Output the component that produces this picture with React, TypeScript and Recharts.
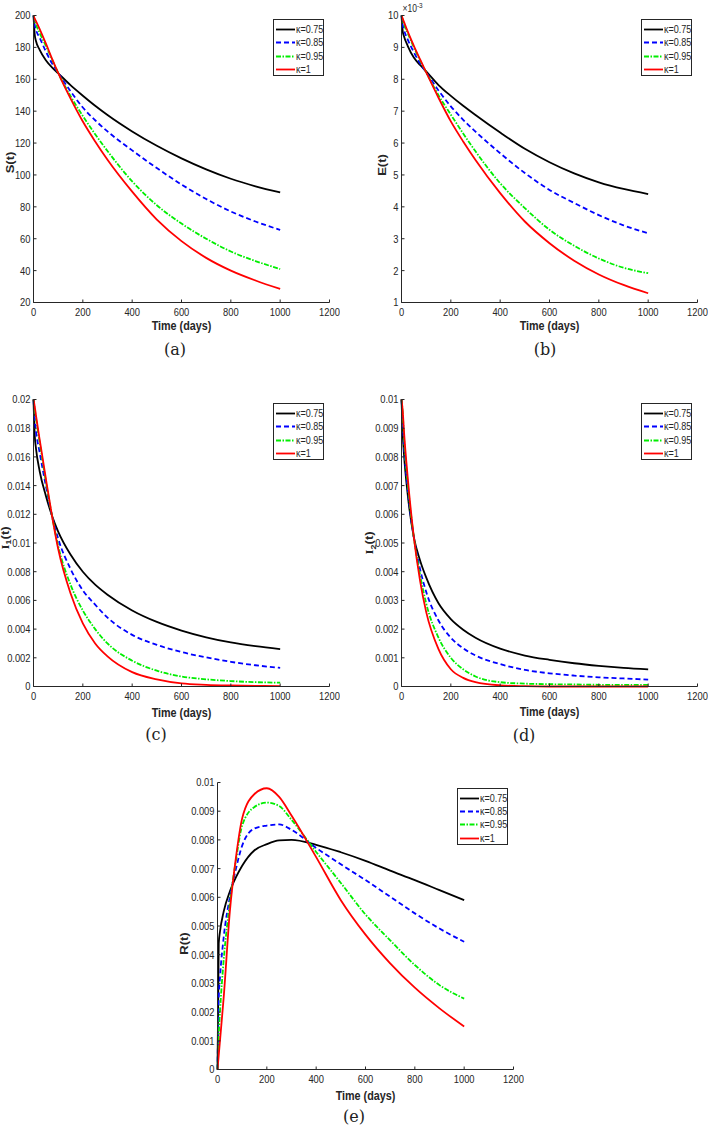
import React from 'react';
import { LineChart, Line, XAxis, YAxis, Legend } from 'recharts';

// ---------- data ----------
const TIME = [0, 5, 10, 25, 50, 75, 100, 150, 200, 250, 300, 400, 500, 600, 700, 800, 900, 1000];
const X_TICKS = [0, 200, 400, 600, 800, 1000, 1200];
const KAPPA_NAMES = ['κ=0.75', 'κ=0.85', 'κ=0.95', 'κ=1'];

// (a) S(t)
const S_K075 = [200, 188, 184, 178.5, 172, 167.5, 163.8, 156.3, 149.7, 143.4, 137.6, 127.3, 118.3, 110.4, 103.5, 97.6, 92.9, 89];
const S_K085 = [200, 194, 191, 186, 177.5, 170, 164, 152.5, 142.3, 134.3, 127.3, 115.4, 104.3, 94.0, 84.9, 77.1, 70.8, 65.5];
const S_K095 = [200, 197, 194.5, 189, 181, 172.5, 164, 149.5, 137, 125.5, 115, 96, 81, 69.5, 60, 52, 46, 41];
const S_K1 = [200, 198, 196.5, 191.5, 182.5, 173, 164, 148, 133.5, 121, 109.5, 89.5, 72, 58.5, 48, 40, 33.8, 28.5];
const S_TICKS = [20, 40, 60, 80, 100, 120, 140, 160, 180, 200];

// (b) E(t)
const E_K075 = [0.01, 0.0095, 0.00935, 0.00905, 0.00868, 0.00845, 0.00825, 0.00782, 0.00748, 0.00717, 0.00688, 0.00633, 0.00582, 0.0054, 0.00505, 0.00477, 0.00456, 0.0044];
const E_K085 = [0.01, 0.0097, 0.00955, 0.00925, 0.00885, 0.0085, 0.00822, 0.00765, 0.00715, 0.00673, 0.00636, 0.00568, 0.00506, 0.00453, 0.00412, 0.00374, 0.00342, 0.00317];
const E_K095 = [0.01, 0.00985, 0.00972, 0.00945, 0.009, 0.0086, 0.00822, 0.0075, 0.00689, 0.0063, 0.00574, 0.00474, 0.00396, 0.00328, 0.00278, 0.00238, 0.00209, 0.00192];
const E_K1 = [0.01, 0.0099, 0.0098, 0.0095, 0.00905, 0.00863, 0.00822, 0.00742, 0.00668, 0.00605, 0.00547, 0.00443, 0.00354, 0.00286, 0.00231, 0.00188, 0.00155, 0.00129];
const E_TICKS = [0.001, 0.002, 0.003, 0.004, 0.005, 0.006, 0.007, 0.008, 0.009, 0.01];

// (c) I1(t)
const I1_K075 = [0.02, 0.0175, 0.0166, 0.015, 0.0133, 0.0119, 0.0108, 0.0092, 0.008, 0.0071, 0.0064, 0.0053, 0.0045, 0.0039, 0.00343, 0.00307, 0.00281, 0.0026];
const I1_K085 = [0.02, 0.0186, 0.0178, 0.0163, 0.014, 0.0119, 0.0103, 0.0082, 0.0067, 0.0057, 0.0048, 0.0036, 0.0029, 0.0024, 0.00203, 0.00172, 0.00148, 0.0013];
const I1_K095 = [0.02, 0.0193, 0.0187, 0.017, 0.0143, 0.0119, 0.0098, 0.0071, 0.0053, 0.004, 0.003, 0.0018, 0.0011, 0.0007, 0.0005, 0.00038, 0.0003, 0.00027];
const I1_K1 = [0.02, 0.0195, 0.0189, 0.0172, 0.0145, 0.0119, 0.0096, 0.0065, 0.0044, 0.003, 0.0021, 0.001, 0.0005, 0.00022, 0.00012, 0.00007, 0.00004, 0.00003];
const I1_TICKS = [0, 0.002, 0.004, 0.006, 0.008, 0.01, 0.012, 0.014, 0.016, 0.018, 0.02];

// (d) I2(t)
const I2_K075 = [0.01, 0.0088, 0.0081, 0.0067, 0.0052, 0.0044, 0.0038, 0.0029, 0.00235, 0.00198, 0.0017, 0.00132, 0.00108, 0.00093, 0.00081, 0.00072, 0.00065, 0.0006];
const I2_K085 = [0.01, 0.0092, 0.0084, 0.0069, 0.0052, 0.0041, 0.0033, 0.0023, 0.0017, 0.00133, 0.00108, 0.00078, 0.00058, 0.00046, 0.00038, 0.00032, 0.00028, 0.00024];
const I2_K095 = [0.01, 0.0095, 0.0087, 0.0071, 0.0052, 0.0039, 0.0029, 0.0017, 0.001, 0.0006, 0.00035, 0.00015, 0.0001, 0.00008, 0.00007, 0.00006, 0.00006, 0.00006];
const I2_K1 = [0.01, 0.0096, 0.0089, 0.0073, 0.0052, 0.0037, 0.0026, 0.0013, 0.0006, 0.0003, 0.00015, 0.00004, 0.00001, 0, 0, 0, 0, 0];
const SMALL_TICKS = [0, 0.001, 0.002, 0.003, 0.004, 0.005, 0.006, 0.007, 0.008, 0.009, 0.01];

// (e) R(t)
const R_K075 = [0, 0.0044, 0.0048, 0.0055, 0.0062, 0.0067, 0.0071, 0.00764, 0.00785, 0.00798, 0.008, 0.00783, 0.00757, 0.00727, 0.00693, 0.0066, 0.00625, 0.0059];
const R_K085 = [0, 0.0025, 0.0032, 0.0046, 0.006, 0.007, 0.0078, 0.0084, 0.0085, 0.00854, 0.00835, 0.00772, 0.00715, 0.0066, 0.00602, 0.00544, 0.00491, 0.00445];
const R_K095 = [0, 0.0012, 0.002, 0.0038, 0.0058, 0.0073, 0.0085, 0.00915, 0.0093, 0.00918, 0.0087, 0.00758, 0.0065, 0.0054, 0.0045, 0.00364, 0.00294, 0.00247];
const R_K1 = [0, 0.0005, 0.001, 0.0025, 0.0055, 0.0074, 0.00875, 0.0096, 0.0098, 0.0095, 0.00885, 0.0074, 0.0059, 0.0047, 0.0037, 0.00285, 0.00213, 0.0015];

// ---------- styling ----------
const FONT = '"Liberation Sans", Arial, Helvetica, sans-serif';
const AX = '#262626';
const SX = 0.85;
const KEYS = ['k075', 'k085', 'k095', 'k1'];
const STYLE: Record<string, { color: string; dash?: string; width: number }> = {
  k075: { color: '#000000', width: 1.8 },
  k085: { color: '#0000ff', dash: '5 3', width: 1.8 },
  k095: { color: '#00ee00', dash: '5 1.5 1.5 1.5', width: 1.8 },
  k1: { color: '#ff0000', width: 1.8 },
};

const buildRows = (s: number[][]) =>
  TIME.map((t, i) => ({ t, k075: s[0][i], k085: s[1][i], k095: s[2][i], k1: s[3][i] }));

const PAD = 20;
const CW = 360;
const CH = 340;
const MARGIN = { top: 15.5, right: 10.5, bottom: 7.5, left: PAD };
const YW = 33.5;
const XH = 30;
const PW = 296;

const XTick = (props: any) => {
  const { x, y, payload } = props;
  return (
    <text transform={`translate(${x},${y}) scale(${SX},1)`} textAnchor="middle" dy="0.71em"
      fontSize={11} fontFamily={FONT} fill={AX}>{payload.value}</text>
  );
};

const YTick = (props: any) => {
  const { x, y, payload, fmt } = props;
  return (
    <text transform={`translate(${x},${y}) scale(${SX},1)`} textAnchor="end" dy="0.355em"
      fontSize={11} fontFamily={FONT} fill={AX}>{fmt ? fmt(payload.value) : String(payload.value)}</text>
  );
};

const LegendBox = (props: any) => {
  const payload = props.payload || [];
  return (
    <div style={{ boxSizing: 'border-box', width: 51, height: 57, border: `1px solid ${AX}`, background: '#fff', paddingTop: 3 }}>
      {payload.map((p: any) => {
        const st = STYLE[p.dataKey as string];
        return (
          <div key={String(p.dataKey)} style={{ height: 13.3, display: 'flex', alignItems: 'center' }}>
            <svg width={22} height={13} style={{ display: 'block', flex: 'none' }}>
              <line x1={2} x2={21} y1={6.5} y2={6.5} stroke={st.color} strokeWidth={st.width} strokeDasharray={st.dash} />
            </svg>
            <span style={{ fontSize: 10.5, fontFamily: FONT, color: AX, display: 'inline-block', whiteSpace: 'nowrap',
              transform: `scaleX(0.86)`, transformOrigin: 'left center', lineHeight: '13px' }}>{p.value}</span>
          </div>
        );
      })}
    </div>
  );
};

type PanelProps = {
  px: number; py: number; rows: any[];
  yDomain: [number, number]; yTicks: number[]; yFmt?: (v: number) => string;
  yLabel: React.ReactNode; yDx: number; yDy: number; xDy: number; legendTop: number; expo?: boolean;
};

const Panel = ({ px, py, rows, yDomain, yTicks, yFmt, yLabel, yDx, yDy, xDy, legendTop, expo }: PanelProps) => {
  const left = px - YW - PAD;
  const top = py - MARGIN.top;
  const yLabelFn = (p: any) => {
    const vb = p.viewBox || { x: PAD, y: MARGIN.top, width: YW, height: 287 };
    const plotLeft = vb.x + vb.width;
    const cx = plotLeft + yDx;
    const cy = vb.y + vb.height / 2 + yDy;
    return (
      <g>
        <text transform={`translate(${cx},${cy}) scale(0.83,1) rotate(-90)`} textAnchor="middle" dominantBaseline="central"
          fontSize={13} fontWeight="bold" fontFamily={FONT} fill={AX}>{yLabel}</text>
        {expo && (
          <text transform={`translate(${plotLeft + 1},${vb.y - 4}) scale(${SX},1)`} fontSize={10} fontFamily={FONT} fill={AX}>
            ×10<tspan dy={-4} fontSize={7.5}>-3</tspan>
          </text>
        )}
      </g>
    );
  };
  const xLabelFn = (p: any) => {
    const vb = p.viewBox || { x: PAD + YW, y: MARGIN.top + 287, width: PW, height: XH };
    return (
      <text transform={`translate(${vb.x + vb.width / 2},${vb.y + xDy}) scale(0.83,1)`} textAnchor="middle"
        fontSize={13} fontWeight="bold" fontFamily={FONT} fill={AX}>Time (days)</text>
    );
  };
  return (
    <div style={{ position: 'absolute', left, top, width: CW, height: CH }}>
      <LineChart width={CW} height={CH} data={rows} margin={MARGIN}>
        <XAxis dataKey="t" type="number" domain={[0, 1200]} ticks={X_TICKS} interval={0} height={XH}
          tickSize={-3} tickMargin={9} stroke={AX} tick={<XTick />} label={xLabelFn} />
        <XAxis xAxisId="top" orientation="top" dataKey="t" type="number" domain={[0, 1200]} ticks={X_TICKS}
          interval={0} height={0} tickSize={-3} tick={false} stroke={AX} />
        <YAxis type="number" domain={yDomain} ticks={yTicks} interval={0} width={YW} tickSize={-3} tickMargin={6}
          stroke={AX} tick={<YTick fmt={yFmt} />} label={yLabelFn} />
        <YAxis yAxisId="right" orientation="right" type="number" domain={yDomain} ticks={yTicks} interval={0}
          width={0} tickSize={-3} tick={false} stroke={AX} />
        {KEYS.map((k, i) => (
          <Line key={k} dataKey={k} name={KAPPA_NAMES[i]} type="monotone" stroke={STYLE[k].color}
            strokeWidth={STYLE[k].width} strokeDasharray={STYLE[k].dash} dot={false} activeDot={false}
            isAnimationActive={false} />
        ))}
        <Legend layout="vertical" align="center" verticalAlign="middle" width={51}
          wrapperStyle={{ left: PAD + YW + PW - 5.5 - 51, top: legendTop, width: 51 }} content={<LegendBox />} />
      </LineChart>
    </div>
  );
};

const Caption = ({ x, y, text }: { x: number; y: number; text: string }) => (
  <div style={{ position: 'absolute', left: x, top: y, transform: 'translate(-50%,-50%)', fontFamily: '"DejaVu Serif", "Liberation Serif", serif',
    fontSize: 16, color: '#222', whiteSpace: 'nowrap', lineHeight: 1 }}>{text}</div>
);

const ILabel = ({ n }: { n: string }) => (
  <>
    <tspan fontFamily='"Liberation Serif", serif'>I</tspan>
    <tspan fontSize={9} dy={4}>{n}</tspan>
    <tspan dy={-4}>(t)</tspan>
  </>
);

export default function App() {
  return (
    <div style={{ position: 'absolute', left: 0, top: 0, width: 708, height: 1127, background: '#fff', overflow: 'hidden' }}>
      <Panel px={33.5} py={15.5} rows={buildRows([S_K075, S_K085, S_K095, S_K1])} yDomain={[20, 200]} yTicks={S_TICKS}
        yLabel="S(t)" yDx={-23.5} yDy={3.5} xDy={27} legendTop={19} />
      <Panel px={401.5} py={15.5} rows={buildRows([E_K075, E_K085, E_K095, E_K1])} yDomain={[0.001, 0.01]} yTicks={E_TICKS}
        yFmt={(v) => String(Math.round(v * 1000))} yLabel="E(t)" yDx={-19.5} yDy={6} xDy={27.5} legendTop={19} expo />
      <Panel px={33.5} py={399.5} rows={buildRows([I1_K075, I1_K085, I1_K095, I1_K1])} yDomain={[0, 0.02]} yTicks={I1_TICKS}
        yLabel={<ILabel n="1" />} yDx={-28.5} yDy={-5} xDy={30.5} legendTop={19} />
      <Panel px={401.5} py={399.5} rows={buildRows([I2_K075, I2_K085, I2_K095, I2_K1])} yDomain={[0, 0.01]} yTicks={SMALL_TICKS}
        yLabel={<ILabel n="2" />} yDx={-32} yDy={0} xDy={29} legendTop={19} />
      <Panel px={217.5} py={782} rows={buildRows([R_K075, R_K085, R_K095, R_K1])} yDomain={[0, 0.01]} yTicks={SMALL_TICKS}
        yLabel="R(t)" yDx={-33.5} yDy={17.5} xDy={30} legendTop={21} />
      <Caption x={175} y={350} text="(a)" />
      <Caption x={545} y={350} text="(b)" />
      <Caption x={156} y={735} text="(c)" />
      <Caption x={524} y={736} text="(d)" />
      <Caption x={354} y={1117} text="(e)" />
    </div>
  );
}
